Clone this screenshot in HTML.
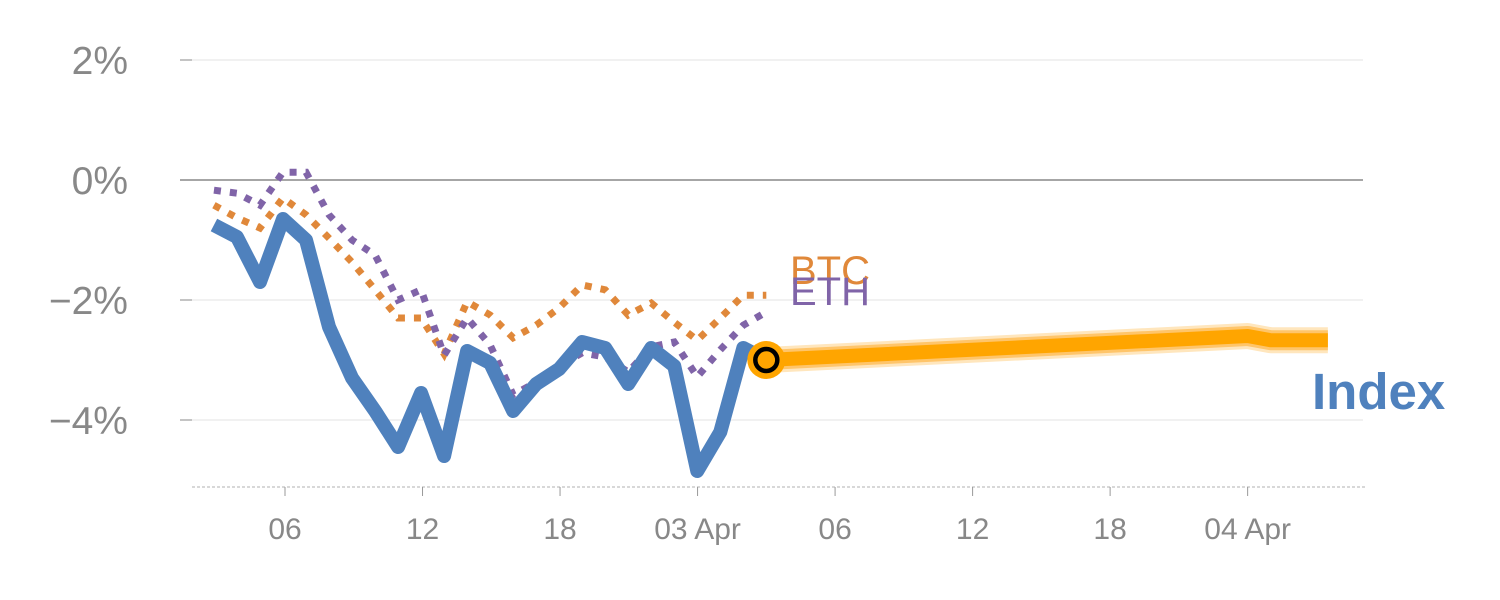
<!DOCTYPE html>
<html><head><meta charset="utf-8"><style>
body{margin:0;background:#fff;}
svg{display:block;font-family:"Liberation Sans",sans-serif;}
</style></head><body>
<svg id="chart" width="1500" height="600"></svg>
<script>
const idxValues=[-0.75,-0.95,-1.7,-0.65,-1.0,-2.45,-3.3,-3.85,-4.45,-3.55,-4.6,-2.85,-3.05,-3.85,-3.4,-3.15,-2.7,-2.8,-3.4,-2.8,-3.1,-4.85,-4.2,-2.8,-3.0];
const btcValues=[-0.42,-0.63,-0.8,-0.3,-0.58,-0.97,-1.37,-1.83,-2.3,-2.3,-2.9,-2.03,-2.25,-2.63,-2.42,-2.13,-1.75,-1.83,-2.25,-2.05,-2.37,-2.67,-2.3,-1.92,-1.92];
const ethValues=[-0.17,-0.22,-0.42,0.13,0.13,-0.58,-1.0,-1.25,-2.0,-1.83,-2.92,-2.3,-2.75,-3.58,-3.37,-3.1,-2.88,-2.95,-3.2,-2.78,-2.7,-3.28,-2.83,-2.42,-2.2];
const startHour=2.9;
const fcHours=[27.0,48,49,51.5];
const fcValues=[-3.0,-2.6,-2.67,-2.67];
const yTicks=[2,0,-2,-4];
const yTickLabels=["2%","0%","−2%","−4%"];
const xTicks=[6,12,18,24,30,36,42,48];
const xTickLabels=["06","12","18","03 Apr","06","12","18","04 Apr"];

const NS="http://www.w3.org/2000/svg";
const svg=document.getElementById('chart');
const X=h=>285+(h-6)*22.92;
const Y=v=>180-60*v;
function mk(tag,attrs,parent){const e=document.createElementNS(NS,tag);for(const k in attrs)e.setAttribute(k,attrs[k]);(parent||svg).appendChild(e);return e;}

yTicks.forEach((v,i)=>{
  const g=mk('line',{x1:180,x2:1363,y1:Y(v),y2:Y(v),stroke:v===0?'#888':'#e3e3e3','stroke-width':v===0?1.5:1});
  
  
  const tm=mk('line',{x1:180,x2:192,y1:Y(v),y2:Y(v),stroke:'#888','stroke-width':1});
  
  
  const t=mk('text',{x:128,y:Y(v)+14,'text-anchor':'end','font-size':39,fill:'#888'});
  t.textContent=yTickLabels[i];
  
  
});
const ax=mk('line',{x1:192,x2:1365,y1:487,y2:487,stroke:'#ccc','stroke-width':1.5,'stroke-dasharray':'3,2'});


xTicks.forEach((h,i)=>{
  const tm=mk('line',{x1:X(h),x2:X(h),y1:487,y2:496,stroke:'#999','stroke-width':1});
  
  
  const t=mk('text',{x:X(h),y:539,'text-anchor':'middle','font-size':30,fill:'#888'});
  t.textContent=xTickLabels[i];
  
  
});
function pts(vals){return vals.map((v,i)=>X(startHour+i*(27-startHour)/24)+','+Y(v)).join(' ');}
const btc=mk('polyline',{points:pts(btcValues),fill:'none',stroke:'#e0883a','stroke-width':7,'stroke-dasharray':'7,9'});


const eth=mk('polyline',{points:pts(ethValues),fill:'none',stroke:'#8064a8','stroke-width':7,'stroke-dasharray':'7,9'});


const idx=mk('polyline',{points:pts(idxValues),fill:'none',stroke:'#4f81bd','stroke-width':14,'stroke-linejoin':'round'});


const fp=fcHours.map((h,i)=>X(h)+','+Y(fcValues[i])).join(' ');
[[26,'#ffe6bd'],[20,'#ffc56a'],[14,'#ffa500']].forEach(([w,c])=>{
  const f=mk('polyline',{points:fp,fill:'none',stroke:c,'stroke-width':w,'stroke-linejoin':'round'});
  
  
});
const lastX=X(27), lastY=Y(idxValues[idxValues.length-1]);
const c1=mk('circle',{cx:lastX,cy:lastY,r:19,fill:'#ffa500'});


mk('circle',{cx:lastX,cy:lastY,r:11,fill:'none',stroke:'#000','stroke-width':4.5});
const lb=mk('text',{x:790,y:284,'font-size':40,fill:'#e0883a'});lb.textContent='BTC';


const le=mk('text',{x:790,y:305,'font-size':40,fill:'#8064a8'});le.textContent='ETH';


const li=mk('text',{x:1312,y:409,'font-size':51,'font-weight':'bold',fill:'#4f81bd'});li.textContent='Index';


</script>
</body></html>
